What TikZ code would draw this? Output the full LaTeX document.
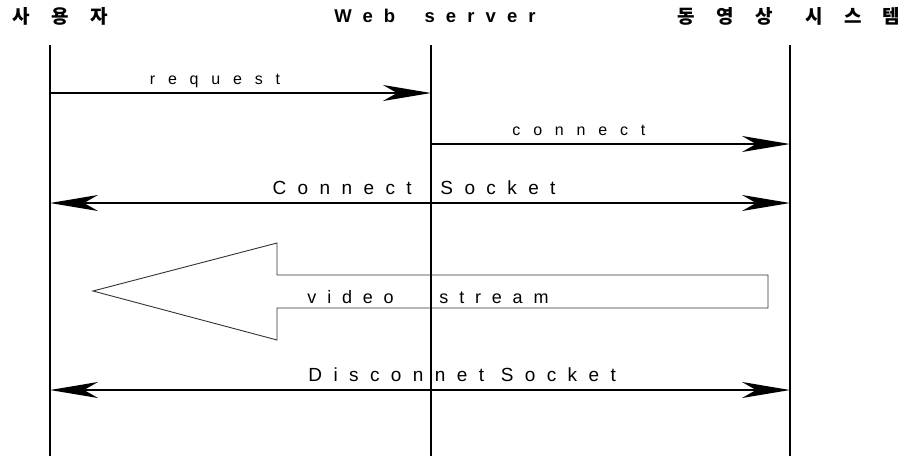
\documentclass[tikz,border=0pt]{standalone}
\usepackage{fontspec}
\setmainfont{Liberation Sans}
\newfontfamily\spaced{Liberation Sans}[LetterSpace=80]
\newfontfamily\widespaced{Liberation Sans}[LetterSpace=60]
\newfontfamily\hdfont{Liberation Sans}[LetterSpace=60]
\newfontfamily\krfont{Noto Sans CJK KR}[LetterSpace=112]
\usetikzlibrary{arrows.meta,calc}

\tikzset{
    tip/.tip={Stealth[length=48pt,width=16pt,inset=14pt]},
    lifeline/.style={line width=2.7pt},
    msg/.style={line width=1.3pt,-tip},
    twoway/.style={line width=1.3pt,tip-tip},
    bigarrow/.style={draw=black!80,line width=0.9pt},
    txt/.style={anchor=base,inner sep=0pt,yshift=9pt,font=\fontsize{16}{18}\spaced},
    bigtxt/.style={txt,font=\fontsize{19}{21}\widespaced},
    head/.style={anchor=base,inner sep=0pt,font=\fontsize{18.5}{20}\hdfont\bfseries},
    krhead/.style={anchor=base,inner sep=0pt,font=\fontsize{19}{21}\krfont\bfseries}
}

\begin{document}
\begin{tikzpicture}[x=1pt,y=-1pt]
    \useasboundingbox (0,0) rectangle (906,459);
    \foreach \n/\x in {user/50,web/431,vod/790} {
        \coordinate (\n-top) at (\x,45);
        \coordinate (\n-bot) at (\x,456);
        \foreach \m/\y in {req/93,con/144,sock/203,disc/390} {
            \coordinate (\n-\m) at (\x,\y);
        }
    }

    \node[krhead] (user) at (60,23) {사용자};
    \node[head] (web) at (435,22) {Web\hspace{13pt} server};
    \node[krhead] (vod) at (789,23) {동영상\hspace{7pt} 시스템};

    \draw[msg] (user-req) -- node[txt,pos=0.433] (reqlbl) {request} (web-req);
    \draw[msg] (web-con) -- node[txt,pos=0.412] (conlbl) {connect} (vod-con);
    \draw[twoway] (user-sock) -- node[bigtxt,pos=0.492] (socklbl) {Connect\hspace{12pt} Socket} (vod-sock);
    \draw[twoway] (user-disc) -- node[bigtxt,pos=0.557] (disclbl) {Disconnet Socket} (vod-disc);

    \draw[bigarrow] (93,291) -- (277,243) -- (277,275) -- (768,275)
        -- (768,308) -- (277,308) -- (277,340) -- cycle;
    \node[bigtxt,yshift=-9pt,font=\fontsize{18}{20}\widespaced] (stream) at (428,303) {video\hspace{30pt} stream};

    \foreach \n in {user,web,vod} {
        \draw[lifeline] (\n-top) -- (\n-bot);
    }
\end{tikzpicture}
\end{document}
